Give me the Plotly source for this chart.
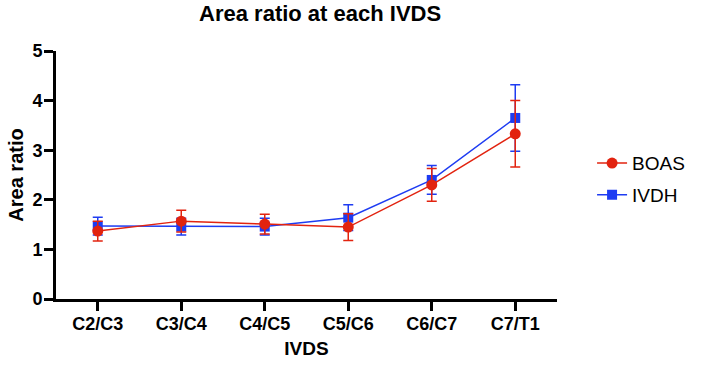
import plotly.graph_objects as go

categories = ["C2/C3", "C3/C4", "C4/C5", "C5/C6", "C6/C7", "C7/T1"]
boas_mean = [1.37, 1.57, 1.51, 1.45, 2.30, 3.33]
boas_err = [0.20, 0.22, 0.20, 0.27, 0.33, 0.67]
ivdh_mean = [1.47, 1.46, 1.46, 1.64, 2.40, 3.65]
ivdh_err = [0.18, 0.17, 0.17, 0.26, 0.29, 0.67]
y_ticks = [0, 1, 2, 3, 4, 5]

RED = "#E2230F"
BLUE = "#1E3CF2"
FONT = "Liberation Sans, Arial, Helvetica, sans-serif"

fig = go.Figure()
fig.add_trace(go.Scatter(
    x=categories, y=ivdh_mean, name="IVDH", mode="lines+markers",
    line=dict(color=BLUE, width=1.5),
    marker=dict(symbol="square", size=10, color=BLUE),
    error_y=dict(type="data", array=ivdh_err, color=BLUE, thickness=1.5, width=5),
    legendrank=2, legendgroup="b",
))
fig.add_trace(go.Scatter(
    x=categories, y=boas_mean, name="BOAS", mode="lines+markers",
    line=dict(color=RED, width=1.5),
    marker=dict(symbol="circle", size=11, color=RED),
    error_y=dict(type="data", array=boas_err, color=RED, thickness=1.5, width=5),
    legendrank=1, legendgroup="a",
))

fig.update_layout(
    width=702, height=365,
    margin=dict(l=56, r=129, t=51, b=66),
    paper_bgcolor="white", plot_bgcolor="white",
    font=dict(family=FONT, color="black"),
    title=dict(text="<b>Area ratio at each IVDS</b>", x=0.456, xanchor="center",
               y=0.964, yanchor="middle", font=dict(size=22, family=FONT, color="black")),
    legend=dict(x=1.07, y=0.483, xanchor="left", yanchor="middle",
                font=dict(size=19, family=FONT, color="black"),
                itemwidth=30, tracegroupgap=4, entrywidth=52, entrywidthmode="pixels",
                bgcolor="rgba(0,0,0,0)"),
    showlegend=True,
)
fig.update_xaxes(
    type="category", range=[-0.5, 5.5], automargin=False,
    showline=True, linecolor="black", linewidth=3,
    ticks="outside", ticklen=9, tickwidth=3, tickcolor="black",
    showgrid=False, zeroline=False, ticklabelstandoff=-3,
    tickfont=dict(size=18, family=FONT, color="black", weight="bold"),
    title=dict(text="<b>IVDS</b>", font=dict(size=19, family=FONT, color="black"), standoff=10),
)
fig.update_yaxes(
    range=[0, 5], tickvals=y_ticks, automargin=False,
    showline=True, linecolor="black", linewidth=3,
    ticks="outside", ticklen=9, tickwidth=3, tickcolor="black",
    showgrid=False, zeroline=False, ticklabelstandoff=-2,
    tickfont=dict(size=18, family=FONT, color="black", weight="bold"),
    title=dict(text="<b>Area ratio</b>", font=dict(size=20, family=FONT, color="black"), standoff=4),
)

fig.write_html("out.html", config={"displayModeBar": False},
               post_script="document.body.style.margin='0';")
